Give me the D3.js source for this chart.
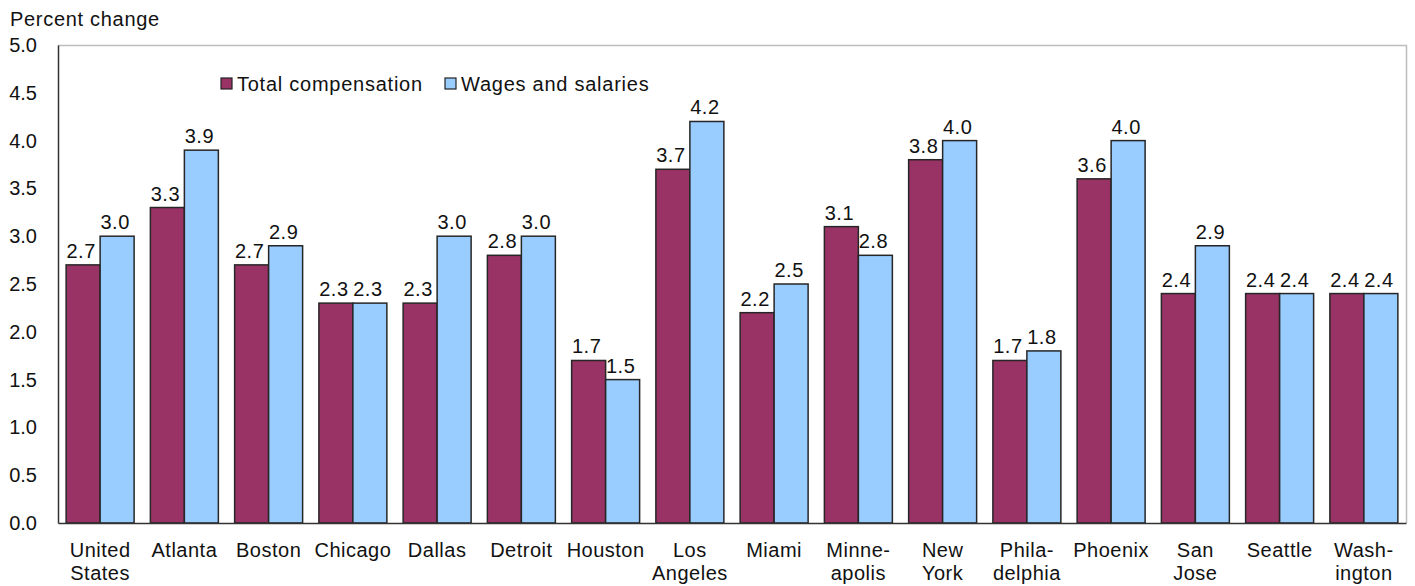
<!DOCTYPE html>
<html>
<head>
<meta charset="utf-8">
<script src="https://cdn.jsdelivr.net/npm/d3@7"></script>
<style>
  html, body { margin: 0; padding: 0; background: #fff; }
  svg { display: block; font-family: "Liberation Sans", Arial, sans-serif; }
</style>
</head>
<body>
<svg id="chart" width="1415" height="586"></svg>
<script>
const categories = [
  ["United","States"], ["Atlanta"], ["Boston"], ["Chicago"], ["Dallas"], ["Detroit"],
  ["Houston"], ["Los","Angeles"], ["Miami"], ["Minne-","apolis"], ["New","York"],
  ["Phila-","delphia"], ["Phoenix"], ["San","Jose"], ["Seattle"], ["Wash-","ington"]
];
const seriesNames = ["Total compensation", "Wages and salaries"];
const totalCompensation = [2.7, 3.3, 2.7, 2.3, 2.3, 2.8, 1.7, 3.7, 2.2, 3.1, 3.8, 1.7, 3.6, 2.4, 2.4, 2.4];
const wagesSalaries     = [3.0, 3.9, 2.9, 2.3, 3.0, 3.0, 1.5, 4.2, 2.5, 2.8, 4.0, 1.8, 4.0, 2.9, 2.4, 2.4];
const yTicks = [0, 0.5, 1.0, 1.5, 2.0, 2.5, 3.0, 3.5, 4.0, 4.5, 5.0];
const yTitle = "Percent change";

const colors = ["#993366", "#99CCFF"];
const svg = d3.select("#chart");
const L = 58, R = 1406, T = 45, B = 523;

const keys = categories.map(c => c.join(" "));
const x = d3.scaleBand().domain(keys).range([L, R]).paddingInner(0.193).paddingOuter(0.0965);
const x1 = d3.scaleBand().domain([0, 1]).range([0, x.bandwidth()]);
const y = d3.scaleLinear().domain([0, 5]).range([B, T]);

const data = keys.map((k, i) => ({ key: k, lines: categories[i], vals: [totalCompensation[i], wagesSalaries[i]] }));

// top & right frame (gray)
svg.append("path")
  .attr("d", `M${L},${T + 0.5}H${R + 0.5}V${B}`)
  .attr("fill", "none").attr("stroke", "#bdbdbd").attr("stroke-width", 1.5);

// bars
const g = svg.append("g");
const groups = g.selectAll("g.grp").data(data).join("g").attr("class", "grp")
  .attr("transform", d => `translate(${x(d.key)},0)`);
groups.selectAll("rect").data(d => d.vals.map((v, j) => ({ v, j }))).join("rect")
  .attr("x", d => x1(d.j))
  .attr("y", d => y(d.v))
  .attr("width", x1.bandwidth())
  .attr("height", d => y(0) - y(d.v))
  .attr("fill", d => colors[d.j])
  .attr("stroke", "#262626").attr("stroke-width", 1.5);
groups.selectAll("text.val").data(d => d.vals.map((v, j) => ({ v, j }))).join("text")
  .attr("class", "val")
  .attr("x", d => x1(d.j) + x1.bandwidth() / 2 - 2)
  .attr("y", d => y(d.v) - 7)
  .attr("text-anchor", "middle")
  .attr("font-size", 20).attr("letter-spacing", 0.5).attr("fill", "#111")
  .text(d => d.v.toFixed(1));

// y axis
const yAxis = d3.axisLeft(y).tickValues(yTicks).tickSize(0).tickPadding(21).tickFormat(d3.format(".1f"));
const ya = svg.append("g").attr("transform", `translate(${L},0)`).call(yAxis);
ya.select(".domain").attr("stroke", "#333").attr("stroke-width", 1.5);
ya.selectAll("text").attr("font-size", 20).attr("fill", "#111").attr("font-family", "Liberation Sans, Arial, sans-serif");

// x axis
const xAxis = d3.axisBottom(x).tickSize(0).tickFormat("");
const xa = svg.append("g").attr("transform", `translate(0,${B})`).call(xAxis);
xa.select(".domain").attr("stroke", "#333").attr("stroke-width", 1.5);
xa.selectAll(".tick").each(function(d, i) {
  const t = d3.select(this).append("text")
    .attr("text-anchor", "middle").attr("font-size", 20).attr("letter-spacing", 0.5)
    .attr("fill", "#111").attr("font-family", "Liberation Sans, Arial, sans-serif");
  categories[i].forEach((ln, k) => {
    t.append("tspan").attr("x", 0).attr("y", 34 + k * 23).text(ln);
  });
});

// y title
svg.append("text").attr("x", 10).attr("y", 26).attr("font-size", 20).attr("letter-spacing", 0.7)
  .attr("fill", "#111").text(yTitle);

// legend
const legX = [221, 445];
seriesNames.forEach((name, i) => {
  svg.append("rect").attr("x", legX[i]).attr("y", 78).attr("width", 11).attr("height", 11)
    .attr("fill", colors[i]).attr("stroke", "#222").attr("stroke-width", 1.2);
  svg.append("text").attr("x", legX[i] + 16).attr("y", 91).attr("font-size", 20).attr("letter-spacing", 0.75)
    .attr("fill", "#111").text(name);
});
</script>
</body>
</html>
